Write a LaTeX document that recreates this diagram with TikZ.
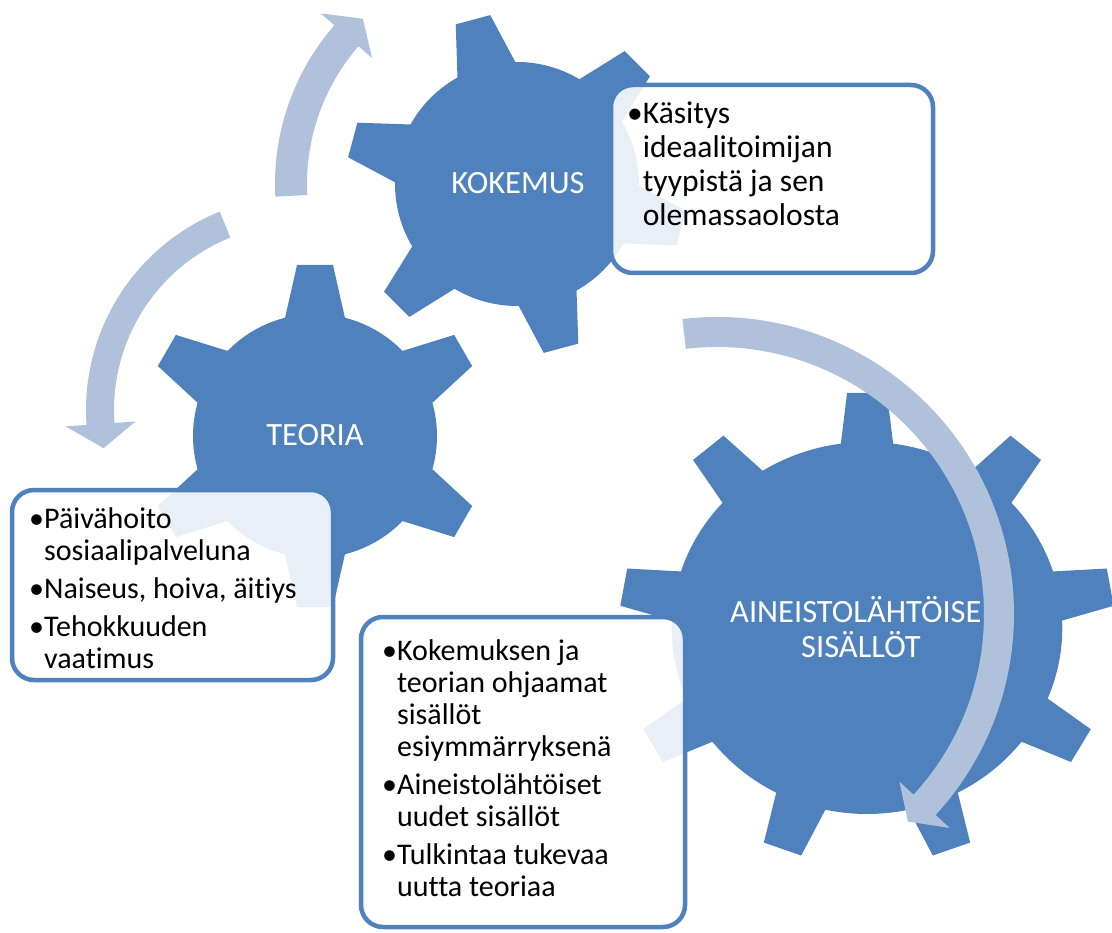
\documentclass[tikz,border=0pt]{standalone}
\usepackage{fontspec}
\setmainfont{Carlito}[Ligatures={NoCommon}]
\definecolor{gearblue}{RGB}{79,129,189}
\definecolor{arrowblue}{RGB}{176,193,220}
\newcommand{\fK}{\fontsize{31.5}{34}\selectfont}
\newcommand{\fT}{\fontsize{30}{32}\selectfont}
\newcommand{\fG}{\fontsize{32.5}{35}\selectfont}
\newcommand{\bulind}{\phantom{•}}
\begin{document}
\begin{tikzpicture}[x=1pt,y=-1pt,
  gearfill/.style={fill=gearblue},
  arrowfill/.style={fill=arrowblue},
  boxsty/.style={draw=gearblue, line width=4.5pt, rounded corners=22pt, fill=white,
    fill opacity=0.88, text opacity=1, inner sep=0pt},
  glabel/.style={text=white, font=\fG, inner sep=0pt},
  lineK/.style={anchor=base west, inner sep=0pt, font=\fK, text=black},
  lineT/.style={anchor=base west, inner sep=0pt, font=\fT, text=black}]
\useasboundingbox (0,0) rectangle (1112,933);

% ---- gears ----
\begin{scope}[shift={(517,184)}]
\fill[gearfill] (15-14.2:122) \foreach \a in {15,75,...,315} {
  -- (\a-14.2:122) -- (\a-6:171) -- (\a+6:171) -- (\a+14.2:122)
  arc[start angle=\a+14.2, end angle=\a+45.8, radius=122] } -- cycle;
\end{scope}
\begin{scope}[shift={(315,436)}]
\fill[gearfill] (30-14.2:122) \foreach \a in {30,90,...,330} {
  -- (\a-14.2:122) -- (\a-6:172) -- (\a+6:172) -- (\a+14.2:122)
  arc[start angle=\a+14.2, end angle=\a+45.8, radius=122] } -- cycle;
\end{scope}
\begin{scope}[shift={(867,628)}, xscale=1.05]
\fill[gearfill] (30-7.7:186) \foreach \a in {30,70,...,350} {
  -- (\a-7.7:186) -- (\a-4.6:236) -- (\a+4.6:236) -- (\a+7.7:186)
  arc[start angle=\a+7.7, end angle=\a+32.3, radius=186] } -- cycle;
\end{scope}

% ---- gear labels ----
\node[glabel] (kok) at (518,183) {KOKEMUS};
\node[glabel] (teo) at (315,435) {TEORIA};
\node[glabel, anchor=base west] (ain1) at (730,622) {AINEISTOLÄHTÖISE};
\node[glabel, anchor=base] (ain2) at (861,657) {SISÄLLÖT};

% ---- circular arrows ----
\begin{scope}[shift={(517,184)}]
\fill[arrowfill] (177:242) arc[start angle=177, end angle=221, radius=242]
  -- (221:260) -- (227:226) -- (221:192) -- (221:210)
  arc[start angle=221, end angle=177, radius=210] -- cycle;
\end{scope}
\begin{scope}[shift={(300,410)}]
\fill[arrowfill] (248:214) arc[start angle=248, end angle=176, radius=214]
  -- (176:235) -- (169:200) -- (176:165) -- (176:186)
  arc[start angle=176, end angle=248, radius=186] -- cycle;
\end{scope}
\begin{scope}[shift={(717,614)}]
\fill[arrowfill] (263.3:297) arc[start angle=263.3, end angle=402.6, radius=297]
  -- (402.6:316) -- (407.4:282) -- (402.6:248) -- (402.6:267)
  arc[start angle=402.6, end angle=263.3, radius=267] -- cycle;
\end{scope}

% ---- text boxes ----
\node[boxsty, minimum width=322pt, minimum height=188pt] (boxK) at (772,179) {};
\node[boxsty, minimum width=321pt, minimum height=190pt] (boxT) at (172.5,585) {};
\node[boxsty, minimum width=324pt, minimum height=310pt] (boxA) at (523,772) {};

% KOKEMUS box text
\node[lineK] (k1) at (627,124) {•Käsitys};
\node[lineK] (k2) at (627,158) {\bulind ideaalitoimijan};
\node[lineK] (k3) at (627,192) {\bulind tyypistä ja sen};
\node[lineK] (k4) at (627,226) {\bulind olemassaolosta};

% TEORIA box text
\node[lineT] (t1) at (29,528) {•Päivähoito};
\node[lineT] (t2) at (29,560) {\bulind sosiaalipalveluna};
\node[lineT] (t3) at (29,598) {•Naiseus, hoiva, äitiys};
\node[lineT] (t4) at (29,636) {•Tehokkuuden};
\node[lineT] (t5) at (29,668) {\bulind vaatimus};

% bottom box text
\node[lineT] (a1) at (382,660) {•Kokemuksen ja};
\node[lineT] (a2) at (382,692) {\bulind teorian ohjaamat};
\node[lineT] (a3) at (382,724) {\bulind sisällöt};
\node[lineT] (a4) at (382,756) {\bulind esiymmärryksenä};
\node[lineT] (a5) at (382,794) {•Aineistolähtöiset};
\node[lineT] (a6) at (382,826) {\bulind uudet sisällöt};
\node[lineT] (a7) at (382,864) {•Tulkintaa tukevaa};
\node[lineT] (a8) at (382,896) {\bulind uutta teoriaa};
\end{tikzpicture}
\end{document}
